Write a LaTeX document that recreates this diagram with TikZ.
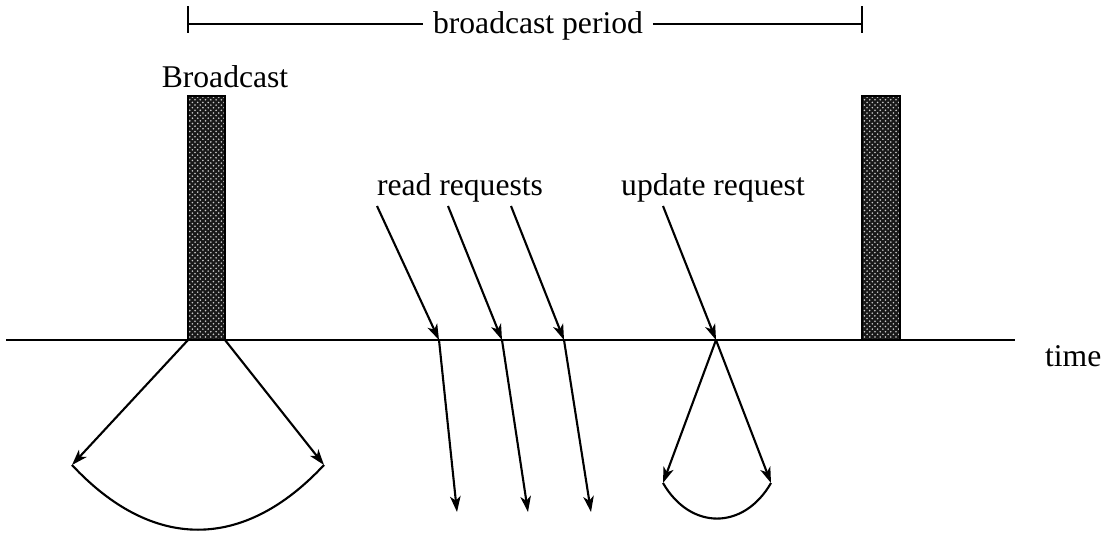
\documentclass[tikz,border=0pt]{standalone}
\usepackage{fontspec}
\setmainfont{Liberation Serif}
\usetikzlibrary{arrows.meta,patterns}
\begin{document}
\begin{tikzpicture}[x=0.02cm,y=-0.02cm,line width=1.2pt,
        >={Stealth[length=9pt,width=6pt,inset=2.5pt]},
        label/.style={font=\fontsize{18}{20}\selectfont, inner sep=0pt},
        slot/.style={draw, preaction={fill=black!90}, pattern=crosshatch dots, pattern color=white!80!black}]
        \useasboundingbox (0,0) rectangle (1106,532);
        % broadcast period
        \node[label, anchor=base, inner xsep=5pt] (period) at (538,33) {broadcast period};
        \coordinate (pl) at (188,24);
        \coordinate (pr) at (862,24);
        \draw (pl) -- (pl -| period.west);
        \draw (pr -| period.east) -- (pr);
        \draw ([yshift=0.36cm]pl) -- ([yshift=-0.18cm]pl);
        \draw ([yshift=0.36cm]pr) -- ([yshift=-0.18cm]pr);
        % broadcasts
        \node[label, anchor=base] (bcast) at (225,87) {Broadcast};
        \draw[slot] (188,96) rectangle (225,340);
        \draw[slot] (862,96) rectangle (900,340);
        % time axis
        \coordinate (t0) at (6,340);
        \coordinate (t1) at (1015,340);
        \draw (t0) -- (t1);
        \node[label, anchor=base west] (time) at (1044,366) {time};
        % fan below the broadcast
        \coordinate (b1) at (188,340);
        \coordinate (b2) at (225,340);
        \coordinate (f1) at (72,465);
        \coordinate (f2) at (324,465);
        \draw[->] (b1) -- (f1);
        \draw[->] (b2) -- (f2);
        \draw (f1) to[out=-47, in=-133, looseness=1.2] (f2);
        % read requests
        \node[label, anchor=base] (read) at (460,195) {read requests};
        \foreach \s/\m/\e [count=\i] in {377/439/457, 448/502/528, 511/564/591} {
            \coordinate (rs\i) at (\s,206);
            \coordinate (rm\i) at (\m,340);
            \coordinate (re\i) at (\e,512);
            \draw[->] (rs\i) -- (rm\i);
            \draw[->] (rm\i) -- (re\i);
        }
        % update request
        \node[label, anchor=base] (update) at (713,195) {update request};
        \coordinate (us) at (663,206);
        \coordinate (um) at (716,340);
        \coordinate (u1) at (663,483);
        \coordinate (u2) at (771,483);
        \draw[->] (us) -- (um);
        \draw[->] (um) -- (u1);
        \draw[->] (um) -- (u2);
        \draw (u1) to[out=-60, in=-120, looseness=1.3] (u2);
\end{tikzpicture}
\end{document}
